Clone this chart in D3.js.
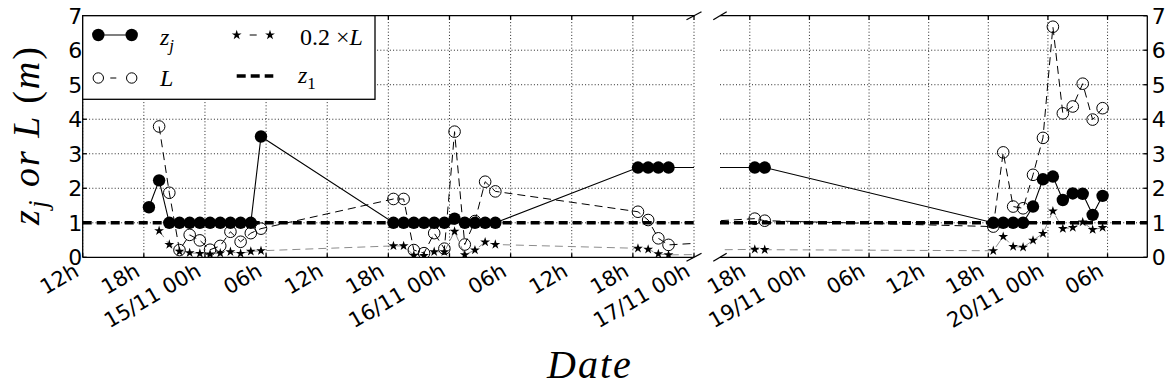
<!DOCTYPE html>
<html><head><meta charset="utf-8">
<script src="https://cdn.jsdelivr.net/npm/d3@7"></script>
<style>body{margin:0;background:#fff} svg{display:block}</style>
</head><body>
<svg id="c" width="1168" height="390"></svg>
<script>
// ---------------- data ----------------
const zjTimes = ["14/11 18:30","14/11 19:30","14/11 20:30","14/11 21:30","14/11 22:30","14/11 23:30","15/11 00:30","15/11 01:30","15/11 02:30","15/11 03:30","15/11 04:30","15/11 05:30",
"15/11 18:30","15/11 19:30","15/11 20:30","15/11 21:30","15/11 22:30","15/11 23:30","16/11 00:30","16/11 01:30","16/11 02:30","16/11 03:30","16/11 04:30",
"16/11 18:30","16/11 19:30","16/11 20:30","16/11 21:30",
"18/11 18:30","18/11 19:30",
"19/11 18:30","19/11 19:30","19/11 20:30","19/11 21:30","19/11 22:30","19/11 23:30","20/11 00:30","20/11 01:30","20/11 02:30","20/11 03:30","20/11 04:30","20/11 05:30"];
const zjValues = [1.45,2.23,1.0,1.0,1.0,1.0,1.0,1.0,1.0,1.0,1.0,3.5,
1.0,1.0,1.0,1.0,1.0,1.0,1.12,1.0,1.0,1.0,1.0,
2.6,2.6,2.6,2.6,
2.6,2.6,
1.0,1.0,1.0,1.0,1.47,2.26,2.34,1.66,1.85,1.84,1.23,1.78];

const LTimes = ["14/11 19:30","14/11 20:30","14/11 21:30","14/11 22:30","14/11 23:30","15/11 00:30","15/11 01:30","15/11 02:30","15/11 03:30","15/11 04:30","15/11 05:30",
"15/11 18:30","15/11 19:30","15/11 20:30","15/11 21:30","15/11 22:30","15/11 23:30","16/11 00:30","16/11 01:30","16/11 02:30","16/11 03:30","16/11 04:30",
"16/11 18:30","16/11 19:30","16/11 20:30","16/11 21:30",
"18/11 18:30","18/11 19:30",
"19/11 18:30","19/11 19:30","19/11 20:30","19/11 21:30","19/11 22:30","19/11 23:30","20/11 00:30","20/11 01:30","20/11 02:30","20/11 03:30","20/11 04:30","20/11 05:30"];
const LValues = [3.79,1.87,0.21,0.65,0.49,0.22,0.33,0.74,0.45,0.70,0.83,
1.69,1.69,0.21,0.12,0.70,0.25,3.64,0.37,1.05,2.19,1.91,
1.32,1.08,0.55,0.36,
1.12,1.06,
0.89,3.04,1.47,1.42,2.39,3.46,6.68,4.17,4.37,5.03,3.99,4.32];
const starValues = [0.77,0.37,0.17,0.13,0.11,0.09,0.12,0.16,0.11,0.17,0.19,
0.33,0.33,0.06,0.05,0.16,0.16,0.75,0.07,0.21,0.44,0.37,
0.26,0.23,0.10,0.07,
0.23,0.22,
0.19,0.60,0.31,0.29,0.49,0.69,1.34,0.83,0.86,1.02,0.80,0.86];
const z1Value = 1.0;

const leftDomain = ["14/11 12:00","17/11 00:00"];
const rightDomain = ["18/11 15:00","20/11 10:00"];
const leftTicks = ["14/11 12:00","14/11 18:00","15/11 00:00","15/11 06:00","15/11 12:00","15/11 18:00","16/11 00:00","16/11 06:00","16/11 12:00","16/11 18:00","17/11 00:00"];
const rightTicks = ["18/11 18:00","19/11 00:00","19/11 06:00","19/11 12:00","19/11 18:00","20/11 00:00","20/11 06:00"];
const yTicks = [0,1,2,3,4,5,6,7];

// ---------------- setup ----------------
const parse = d3.utcParse("%Y %d/%m %H:%M");
const T = s => parse("2014 " + s);
const fmtTick = d => d.getUTCHours() === 0 ? d3.utcFormat("%d/%m %Hh")(d) : d3.utcFormat("%Hh")(d);

const svg = d3.select("#c");
const yTop = 15.7, yBot = 257.3;
const y = d3.scaleLinear().domain([0, 7]).range([yBot, yTop]);

const panels = [
  {id:"L", x: d3.scaleUtc().domain(leftDomain.map(T)).range([82.7, 694]), ticks: leftTicks.map(T), side:"left"},
  {id:"R", x: d3.scaleUtc().domain(rightDomain.map(T)).range([720, 1147.3]), ticks: rightTicks.map(T), side:"right"}
];

const zj = zjTimes.map((t,i)=>({t:T(t), v:zjValues[i]}));
const Ld = LTimes.map((t,i)=>({t:T(t), v:LValues[i]}));
const Sd = LTimes.map((t,i)=>({t:T(t), v:starValues[i]}));

const star = d3.symbol().type(d3.symbolStar).size(30);

const defs = svg.append("defs");

panels.forEach(p => {
  const [x0, x1] = p.x.range();
  defs.append("clipPath").attr("id","clip"+p.id)
    .append("rect").attr("x",x0).attr("y",yTop).attr("width",x1-x0).attr("height",yBot-yTop);
  const g = svg.append("g");
  // grid
  const grid = g.append("g").attr("stroke","#000").attr("stroke-width",1).attr("stroke-dasharray","1,2.2").attr("opacity",0.85);
  p.ticks.forEach(t => grid.append("line").attr("x1",p.x(t)).attr("x2",p.x(t)).attr("y1",yTop).attr("y2",yBot));
  yTicks.filter(v=>v>0&&v<7).forEach(v => grid.append("line").attr("x1",x0).attr("x2",x1).attr("y1",y(v)).attr("y2",y(v)));

  const c = g.append("g").attr("clip-path","url(#clip"+p.id+")");
  const line = d3.line().x(d=>p.x(d.t)).y(d=>y(d.v));
  // 0.2 x L
  c.append("path").datum(Sd).attr("d",line).attr("fill","none").attr("stroke","#8c8c8c").attr("stroke-width",1).attr("stroke-dasharray","8,5");
  // L
  c.append("path").datum(Ld).attr("d",line).attr("fill","none").attr("stroke","#000").attr("stroke-width",1).attr("stroke-dasharray","8,5");
  c.selectAll(".lc").data(Ld).join("circle").attr("cx",d=>p.x(d.t)).attr("cy",d=>y(d.v)).attr("r",5.8)
    .attr("fill","none").attr("stroke","#000").attr("stroke-width",1);
  c.selectAll(".st").data(Sd).join("path").attr("d",star).attr("transform",d=>`translate(${p.x(d.t)},${y(d.v)})`).attr("fill","#000");
  // z1
  c.append("line").attr("x1",x0).attr("x2",x1).attr("y1",y(z1Value)).attr("y2",y(z1Value))
    .attr("stroke","#000").attr("stroke-width",3.6).attr("stroke-dasharray","9,5");
  // zj
  c.append("path").datum(zj).attr("d",line).attr("fill","none").attr("stroke","#000").attr("stroke-width",1.1);
  c.selectAll(".zc").data(zj).join("circle").attr("cx",d=>p.x(d.t)).attr("cy",d=>y(d.v)).attr("r",6.2).attr("fill","#000");

  // spines
  const sp = g.append("g").attr("stroke","#000").attr("stroke-width",1.3).attr("fill","none");
  sp.append("line").attr("x1",x0).attr("x2",x1).attr("y1",yTop).attr("y2",yTop);
  sp.append("line").attr("x1",x0).attr("x2",x1).attr("y1",yBot).attr("y2",yBot);
  const sx = p.side==="left" ? x0 : x1;
  sp.append("line").attr("x1",sx).attr("x2",sx).attr("y1",yTop).attr("y2",yBot);
  // ticks (inward)
  p.ticks.forEach(t => {
    sp.append("line").attr("x1",p.x(t)).attr("x2",p.x(t)).attr("y1",yBot).attr("y2",yBot-4);
    sp.append("line").attr("x1",p.x(t)).attr("x2",p.x(t)).attr("y1",yTop).attr("y2",yTop+4);
  });
  yTicks.forEach(v => {
    const dir = p.side==="left" ? 4 : -4;
    sp.append("line").attr("x1",sx).attr("x2",sx+dir).attr("y1",y(v)).attr("y2",y(v));
  });
  // break marks
  const bx = p.side==="left" ? x1 : x0;
  const dx = p.side==="left" ? 7.5 : 6.7, dy = 4;
  [yTop, yBot].forEach(yy => sp.append("line").attr("x1",bx-dx).attr("y1",yy+dy).attr("x2",bx+dx).attr("y2",yy-dy));

  // x tick labels
  const xl = g.append("g").attr("font-family","DejaVu Sans").attr("font-size",21).attr("fill","#000");
  p.ticks.forEach(t => {
    xl.append("text").attr("text-anchor","end")
      .attr("transform",`translate(${p.x(t)-2.5},${275}) rotate(-30)`).text(fmtTick(t));
  });
  // y tick labels
  const yl = g.append("g").attr("font-family","DejaVu Sans").attr("font-size",22).attr("fill","#000");
  yTicks.forEach(v => {
    yl.append("text").attr("x", p.side==="left" ? x0-0.5 : x1+4.5).attr("y",y(v)).attr("dy","0.36em")
      .attr("text-anchor", p.side==="left" ? "end" : "start").text(v);
  });
});

// legend
const lg = svg.append("g");
lg.append("rect").attr("x",82.7).attr("y",15.7).attr("width",292.3).attr("height",83.6).attr("fill","#fff").attr("stroke","#000").attr("stroke-width",1.3);
const r1 = 35, r2 = 78;
lg.append("line").attr("x1",98.3).attr("x2",131.7).attr("y1",r1).attr("y2",r1).attr("stroke","#000").attr("stroke-width",1.1);
[98.3,131.7].forEach(xx=>lg.append("circle").attr("cx",xx).attr("cy",r1).attr("r",6.2).attr("fill","#000"));
lg.append("line").attr("x1",98.3).attr("x2",131.7).attr("y1",r2).attr("y2",r2).attr("stroke","#000").attr("stroke-width",1).attr("stroke-dasharray","0,12,6,100");
[98.3,131.7].forEach(xx=>lg.append("circle").attr("cx",xx).attr("cy",r2).attr("r",5.2).attr("fill","none").attr("stroke","#000"));
lg.append("line").attr("x1",236.7).attr("x2",270).attr("y1",r1).attr("y2",r1).attr("stroke","#000").attr("stroke-width",1).attr("stroke-dasharray","0,13,7,100");
[236.7,270].forEach(xx=>lg.append("path").attr("d",star).attr("transform",`translate(${xx},${r1})`).attr("fill","#000"));
lg.append("line").attr("x1",236.7).attr("x2",273.3).attr("y1",76).attr("y2",76).attr("stroke","#000").attr("stroke-width",3.6).attr("stroke-dasharray","9,5");

const tf = lg.append("g").attr("font-family","Liberation Serif").attr("font-size",24).attr("fill","#000");
const t1 = tf.append("text").attr("x",160).attr("y",45).attr("font-style","italic");
t1.append("tspan").text("z");
t1.append("tspan").attr("dy",6).attr("font-size",17).text("j");
tf.append("text").attr("x",160).attr("y",86).attr("font-style","italic").text("L");
const t3 = tf.append("text").attr("x",300).attr("y",45);
t3.append("tspan").text("0.2 ×");
t3.append("tspan").attr("font-style","italic").text("L");
const t4 = tf.append("text").attr("x",298).attr("y",83).attr("font-style","italic");
t4.append("tspan").text("z");
t4.append("tspan").attr("dy",6).attr("font-size",17).attr("font-style","normal").text("1");

// axis titles
svg.append("text").attr("x",590).attr("y",378).attr("text-anchor","middle")
  .attr("font-family","Liberation Serif").attr("font-style","italic").attr("font-size",40).attr("letter-spacing",2).text("Date");
const yt = svg.append("text").attr("transform","translate(38.5,135) rotate(-90)").attr("text-anchor","middle")
  .attr("font-family","Liberation Serif").attr("font-style","italic").attr("font-size",38).attr("letter-spacing",2);
yt.append("tspan").text("z");
yt.append("tspan").attr("dy",8).attr("font-size",27).text("j");
yt.append("tspan").attr("dy",-8).text(" or L ");
yt.append("tspan").attr("font-style","normal").text("(");
yt.append("tspan").text("m");
yt.append("tspan").attr("font-style","normal").text(")");
</script>
</body></html>
